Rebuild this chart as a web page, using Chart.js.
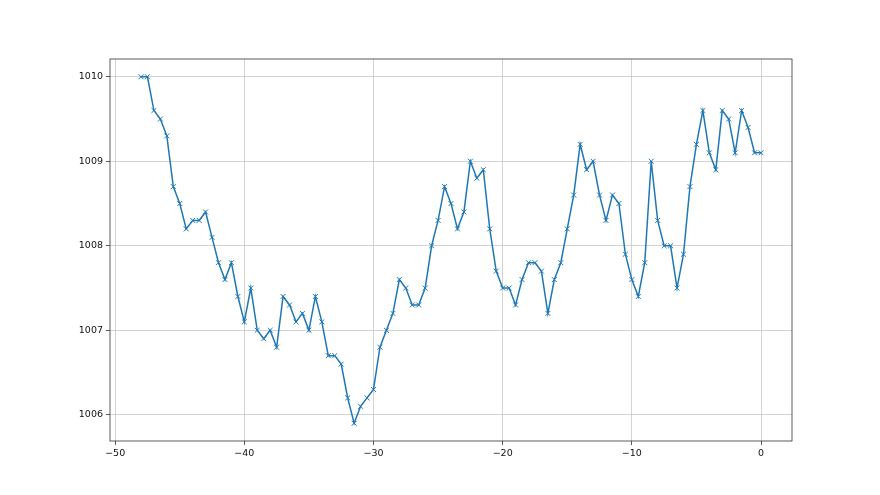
<!DOCTYPE html>
<html>
<head>
<meta charset="utf-8">
<script src="https://cdn.jsdelivr.net/npm/chart.js@4/dist/chart.umd.min.js"></script>
<style>
html,body{margin:0;padding:0;background:#fff;}
#wrap{width:880px;height:495px;}
</style>
</head>
<body>
<div id="wrap"><canvas id="c" width="880" height="495"></canvas></div>
<script>
const xStart = -48;
const xStep = 0.5;
const pressure = [
  1010.0, 1010.0, 1009.6, 1009.5, 1009.3, 1008.7, 1008.5, 1008.2, 1008.3, 1008.3,
  1008.4, 1008.1, 1007.8, 1007.6, 1007.8, 1007.4, 1007.1, 1007.5, 1007.0, 1006.9,
  1007.0, 1006.8, 1007.4, 1007.3, 1007.1, 1007.2, 1007.0, 1007.4, 1007.1, 1006.7,
  1006.7, 1006.6, 1006.2, 1005.9, 1006.1, 1006.2, 1006.3, 1006.8, 1007.0, 1007.2,
  1007.6, 1007.5, 1007.3, 1007.3, 1007.5, 1008.0, 1008.3, 1008.7, 1008.5, 1008.2,
  1008.4, 1009.0, 1008.8, 1008.9, 1008.2, 1007.7, 1007.5, 1007.5, 1007.3, 1007.6,
  1007.8, 1007.8, 1007.7, 1007.2, 1007.6, 1007.8, 1008.2, 1008.6, 1009.2, 1008.9,
  1009.0, 1008.6, 1008.3, 1008.6, 1008.5, 1007.9, 1007.6, 1007.4, 1007.8, 1009.0,
  1008.3, 1008.0, 1008.0, 1007.5, 1007.9, 1008.7, 1009.2, 1009.6, 1009.1, 1008.9,
  1009.6, 1009.5, 1009.1, 1009.6, 1009.4, 1009.1, 1009.1
];
const hours = pressure.map((_, i) => xStart + i * xStep);
const xTicks = [-50, -40, -30, -20, -10, 0];
const yTicks = [1006, 1007, 1008, 1009, 1010];

const points = hours.map((h, i) => ({x: h, y: pressure[i]}));
const fmt = v => (v < 0 ? '\u2212' + Math.abs(v) : String(v));

const frame = {
  id: 'frame',
  afterDatasetsDraw(chart) {
    const a = chart.chartArea, ctx = chart.ctx;
    ctx.save();
    ctx.strokeStyle = '#333';
    ctx.lineWidth = 0.8;
    ctx.strokeRect(a.left, a.top, a.right - a.left, a.bottom - a.top);
    ctx.restore();
  }
};

new Chart(document.getElementById('c'), {
  type: 'line',
  data: {
    datasets: [{
      data: points,
      borderColor: '#1f77b4',
      borderWidth: 1.5,
      pointStyle: 'crossRot',
      pointRadius: 3.5,
      pointBorderWidth: 1,
      pointBorderColor: '#1f77b4',
      pointBackgroundColor: '#1f77b4',
      tension: 0,
      fill: false
    }]
  },
  options: {
    responsive: false,
    animation: false,
    devicePixelRatio: 1,
    layout: {padding: {left: 0, right: 88, top: 59, bottom: 24}},
    plugins: {legend: {display: false}, tooltip: {enabled: false}},
    scales: {
      x: {
        type: 'linear',
        min: -50.4,
        max: 2.4,
        afterBuildTicks: s => { s.ticks = xTicks.map(v => ({value: v})); },
        afterFit: s => { s.height = 30; },
        grid: {color: '#c8c8c8', lineWidth: 0.8, tickColor: '#333', tickLength: 4, drawTicks: true},
        border: {display: false},
        ticks: {color: '#111', font: {family: 'DejaVu Sans', size: 9.5}, padding: 3, maxRotation: 0, callback: fmt}
      },
      y: {
        type: 'linear',
        min: 1005.69,
        max: 1010.21,
        afterBuildTicks: s => { s.ticks = yTicks.map(v => ({value: v})); },
        afterFit: s => { s.width = 110; },
        grid: {color: '#c8c8c8', lineWidth: 0.8, tickColor: '#333', tickLength: 4, drawTicks: true},
        border: {display: false},
        ticks: {color: '#111', font: {family: 'DejaVu Sans', size: 9.5}, padding: 3, callback: v => String(v)}
      }
    }
  },
  plugins: [frame]
});
</script>
</body>
</html>
